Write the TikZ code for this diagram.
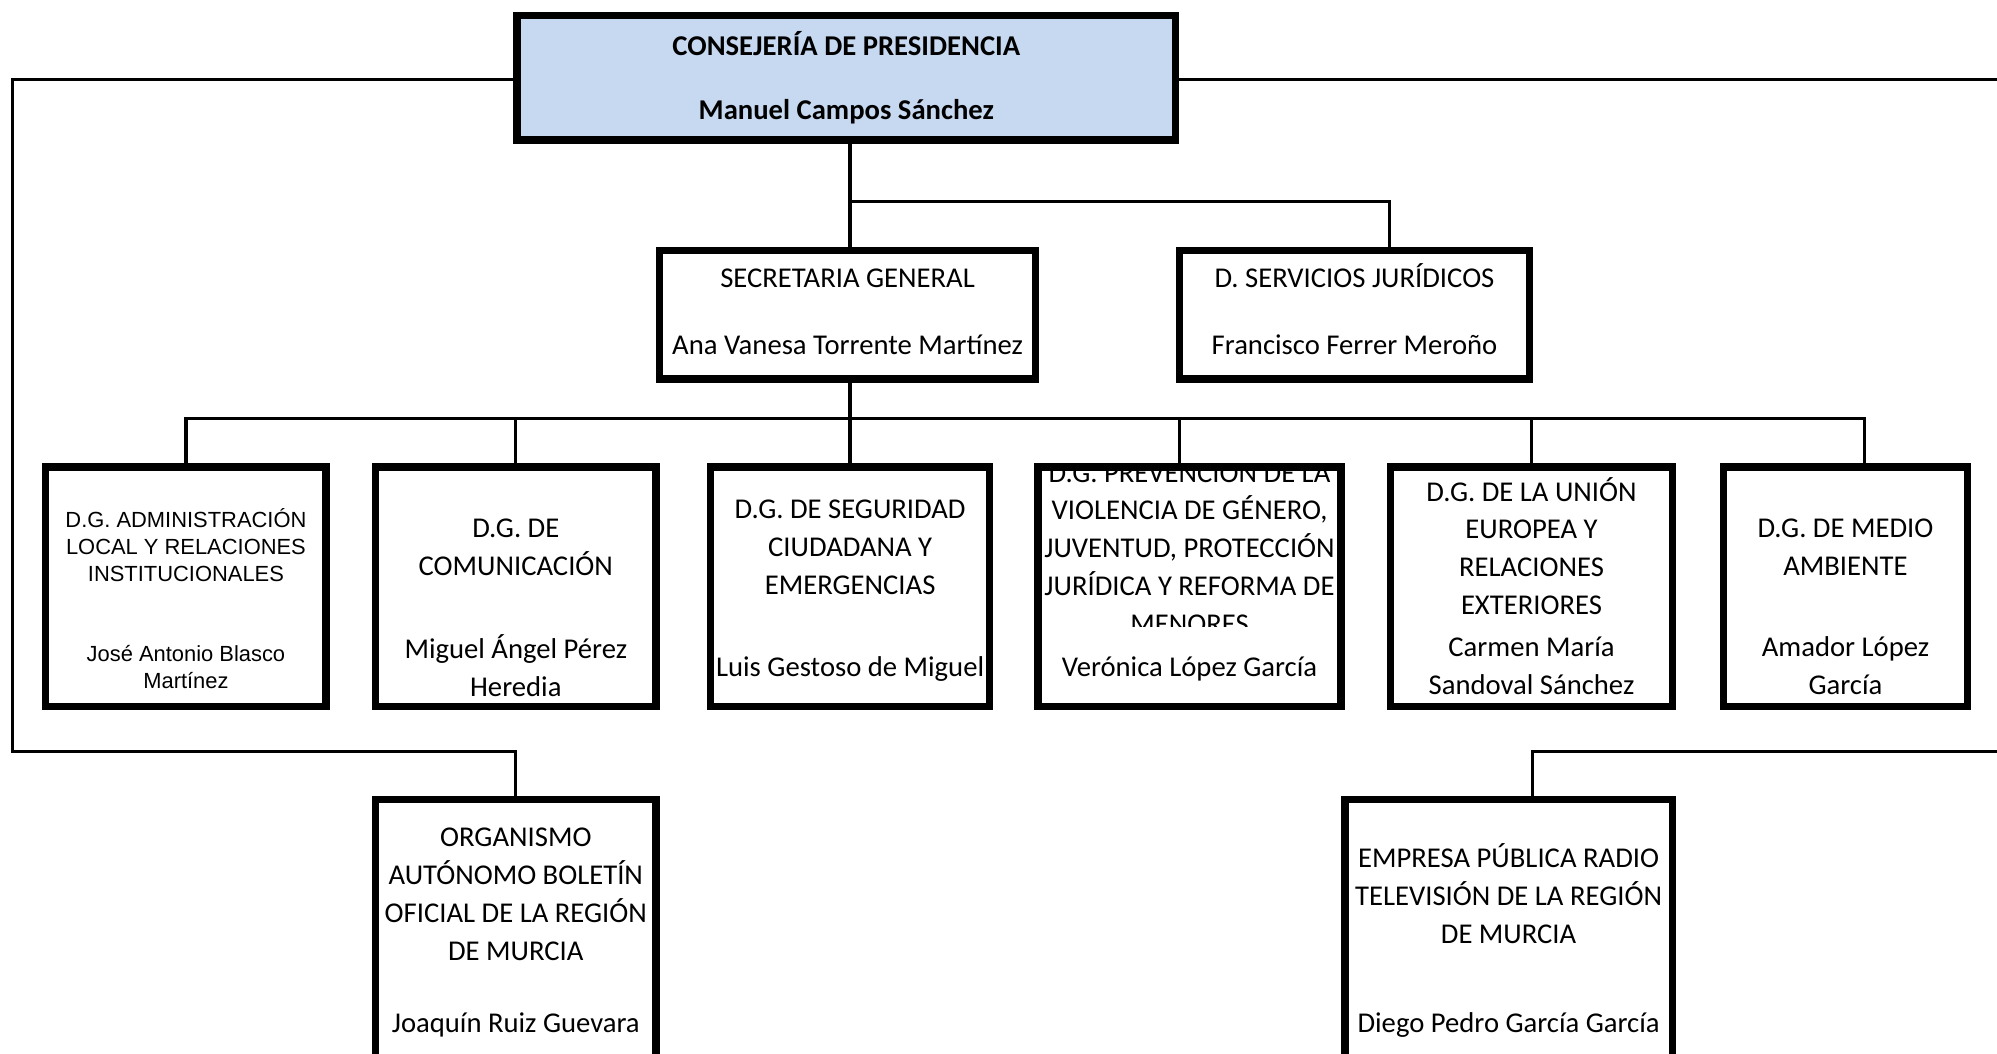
\documentclass[tikz,border=0pt]{standalone}
\usepackage{fontspec}
\setmainfont{Carlito}
\newfontfamily\arialfont{Liberation Sans}
\usepackage{tikz}
\usetikzlibrary{calc, positioning}
\definecolor{presblue}{RGB}{198,217,241}

\begin{document}
\begin{tikzpicture}[x=1pt, y=-1pt]
	\tikzstyle{box} = [draw, line width=5.7pt, inner sep=0pt]
	\tikzstyle{conn} = [line width=2.6pt]
	\tikzstyle{txt} = [align=center, inner sep=0pt, font=\fontsize{22.5}{29.7}\selectfont, execute at begin node=\strut, execute at end node=\strut]
	\tikzstyle{boldtxt} = [txt, font=\bfseries\fontsize{22.5}{29.7}\selectfont]
	\tikzstyle{smalltxt} = [txt, font=\arialfont\fontsize{17.2}{21.2}\selectfont]

	\clip (0,0) rectangle (1568,826.8);

	% boxes
	\node[box, fill=presblue, minimum width=517pt, minimum height=98pt] (pres) at (664.5,60.9) {};
	\node[box, minimum width=295pt, minimum height=101pt] (sg) at (665.5,247) {};
	\node[box, minimum width=275pt, minimum height=101pt] (dsj) at (1063.5,247) {};
	\foreach \n/\x/\w in {dgadm/146/220, dgcom/405/220, dgseg/667.5/219, dgvio/934/238, dgue/1202.5/221, dgma/1449/192}
		\node[box, minimum width=\w pt, minimum height=188pt] (\n) at (\x,460.6) {};
	\node[box, minimum width=220pt, minimum height=242pt] (bor) at (405,748.8) {};
	\node[box, minimum width=257pt, minimum height=242pt] (rtv) at (1184.5,748.8) {};

	% texts
	\node[boldtxt] (presT) at (664.5,37.5) {CONSEJERÍA DE PRESIDENCIA};
	\node[boldtxt] (presN) at (664.5,87.5) {Manuel Campos Sánchez};
	\node[txt] (sgT) at (665.5,220) {SECRETARIA GENERAL};
	\node[txt] (sgN) at (665.5,272.5) {Ana Vanesa Torrente Martínez};
	\node[txt] (dsjT) at (1063.5,220) {D. SERVICIOS JURÍDICOS};
	\node[txt] (dsjN) at (1063.5,272.5) {Francisco Ferrer Meroño};
	\node[smalltxt] (dgadmT) at (146,431) {D.G. ADMINISTRACIÓN\\LOCAL Y RELACIONES\\INSTITUCIONALES};
	\node[smalltxt] (dgadmN) at (146,526.5) {José Antonio Blasco\\Martínez};
	\node[txt] (dgcomT) at (405,434) {D.G. DE\\COMUNICACIÓN};
	\node[txt] (dgcomN) at (405,527) {Miguel Ángel Pérez\\Heredia};
	\node[txt] (dgsegT) at (667.5,434) {D.G. DE SEGURIDAD\\CIUDADANA Y\\EMERGENCIAS};
	\node[txt] (dgsegN) at (667.5,525.5) {Luis Gestoso de Miguel};
	\begin{scope}
		\clip (790,370) rectangle (1080,492);
		\node[txt] (dgvioT) at (934,433) {D.G. PREVENCIÓN DE LA\\VIOLENCIA DE GÉNERO,\\JUVENTUD, PROTECCIÓN\\JURÍDICA Y REFORMA DE\\MENORES};
	\end{scope}
	\node[txt] (dgvioN) at (934,525.5) {Verónica López García};
	\node[txt] (dgueT) at (1202.5,433) {D.G. DE LA UNIÓN\\EUROPEA Y\\RELACIONES\\EXTERIORES};
	\node[txt] (dgueN) at (1202.5,527) {Carmen María\\Sandoval Sánchez};
	\node[txt] (dgmaT) at (1449,434) {D.G. DE MEDIO\\AMBIENTE};
	\node[txt] (dgmaN) at (1449,527) {Amador López\\García};
	\node[txt] (borT) at (405,706.5) {ORGANISMO\\AUTÓNOMO BOLETÍN\\OFICIAL DE LA REGIÓN\\DE MURCIA};
	\node[txt] (borN) at (405,805) {Joaquín Ruiz Guevara};
	\node[txt] (rtvT) at (1184.5,706) {EMPRESA PÚBLICA RADIO\\TELEVISIÓN DE LA REGIÓN\\DE MURCIA};
	\node[txt] (rtvN) at (1184.5,805) {Diego Pedro García García};

	% connectors
	\coordinate (fork) at (0,158.2);
	\coordinate (bus) at (0,328.5);
	\coordinate (loopL) at (10,590);
	\coordinate (loopR) at (1585,590);
	\coordinate (dsjIn) at ($(dsj.north)+(27.5,0)$);
	\coordinate (dgvioIn) at ($(dgvio.north)+(-8,0)$);
	\coordinate (dgmaIn) at ($(dgma.north)+(15,0)$);
	\coordinate (rtvIn) at ($(rtv.north)+(18.5,0)$);

	\draw[conn] (pres.south -| dgseg.north) -- (sg.north -| dgseg.north);
	\draw[conn] (fork -| dgseg.north) -| (dsjIn);
	\draw[conn] (sg.south -| dgseg.north) -- (dgseg.north);
	\draw[conn] (dgadm.north) |- (bus -| dgmaIn) -- (dgmaIn);
	\foreach \n in {dgcom, dgue}
		\draw[conn] (\n.north) -- (\n.north |- bus);
	\draw[conn] (dgvioIn) -- (dgvioIn |- bus);
	\draw[conn] (pres.west |- 0,62.2) -| (loopL) -| (bor.north);
	\draw[conn] (pres.east |- 0,62.2) -| (loopR) -| (rtvIn);
\end{tikzpicture}
\end{document}
